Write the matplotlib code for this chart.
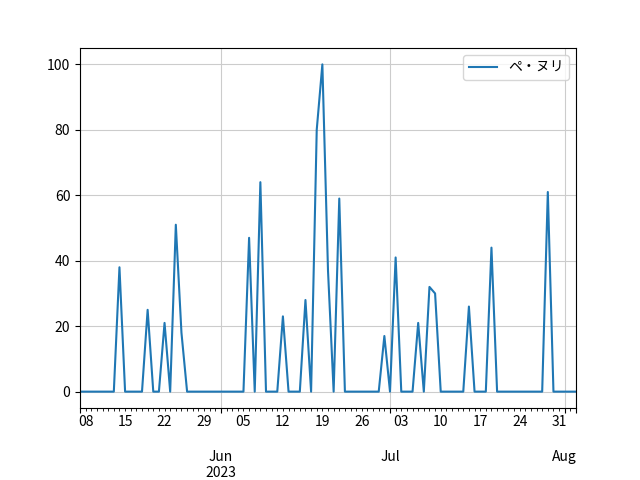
import matplotlib
matplotlib.use("Agg")
import matplotlib.pyplot as plt
from matplotlib.ticker import Formatter
import pandas as pd

plt.rcParams['font.family'] = ['Noto Sans CJK JP', 'DejaVu Sans']

start_date = "2023-05-07"
end_date = "2023-08-03"
series_name = "ペ・ヌリ"
year_label = "2023"
year_month = "Jun"
values = [
    0, 0, 0, 0, 0, 0, 0, 38, 0, 0,
    0, 0, 25, 0, 0, 21, 0, 51, 18, 0,
    0, 0, 0, 0, 0, 0, 0, 0, 0, 0,
    47, 0, 64, 0, 0, 0, 23, 0, 0, 0,
    28, 0, 80, 100, 37, 0, 59, 0, 0, 0,
    0, 0, 0, 0, 17, 0, 41, 0, 0, 0,
    21, 0, 32, 30, 0, 0, 0, 0, 0, 26,
    0, 0, 0, 44, 0, 0, 0, 0, 0, 0,
    0, 0, 0, 61, 0, 0, 0, 0, 0,
]

idx = pd.date_range(start_date, end_date, freq="D")
s = pd.Series(values, index=idx, name=series_name)

fig, ax = plt.subplots(figsize=(6.4, 4.8), dpi=100)
fig.subplots_adjust(left=0.125, right=0.9, top=0.9, bottom=0.15)
s.plot(ax=ax, color="#1f77b4", linewidth=1.5)
ax.grid(True, which="major", color="#cccccc", linewidth=0.8)
ax.legend(loc="upper right")


class YearWrap(Formatter):
    def __init__(self, inner):
        self.inner = inner

    def format_ticks(self, values):
        labels = self.inner.format_ticks(values)
        return [l + "\n" + year_label if l == year_month else l for l in labels]

    def __call__(self, x, pos=None):
        l = self.inner(x, pos)
        return l + "\n" + year_label if l == year_month else l


ax.xaxis.set_major_formatter(YearWrap(ax.xaxis.get_major_formatter()))
ax.xaxis.set_minor_formatter(YearWrap(ax.xaxis.get_minor_formatter()))
ax.xaxis.get_major_formatter().inner.axis = ax.xaxis
ax.xaxis.get_minor_formatter().inner.axis = ax.xaxis

fig.savefig("out.png", dpi=100)
